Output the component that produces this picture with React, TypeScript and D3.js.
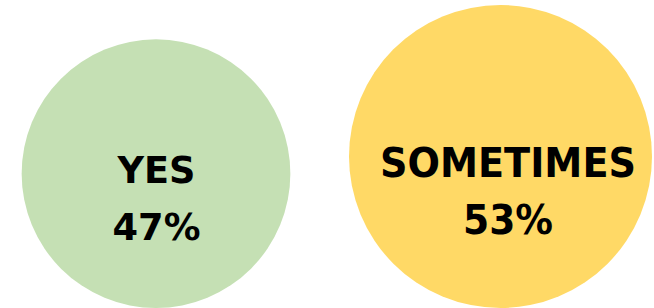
import * as d3 from "d3";

const categories = ["YES", "SOMETIMES"];
const values = [47, 53];
const colors = ["#C5E0B4", "#FFD966"];

const WIDTH = 654;
const HEIGHT = 308;
const BASE_Y = 308; // circles sit on a common bottom line
const CENTERS_X = [156, 500.5];
// label offsets relative to circle centre
const LABEL_DX = [0.5, 7.5];
const LINE1_DY = [9, 20.5];
const LINE2_DY = [66, 77.5];
// rendered widths of the heavy geometric labels
const LINE1_W = [78, 256];
const LINE2_W = [88, 90];

export default function App() {
  // radius proportional to the value
  const r = d3.scaleLinear().domain([0, 53]).range([0, 151.5]);
  const font = d3.scaleLinear().domain([47, 53]).range([37, 40.5]);

  return (
    <svg
      width={WIDTH}
      height={HEIGHT}
      viewBox={`0 0 ${WIDTH} ${HEIGHT}`}
      style={{ position: "absolute", left: 0, top: 0 }}
    >
      {categories.map((c, i) => {
        const rad = r(values[i]);
        const cx = CENTERS_X[i];
        const cy = BASE_Y - rad;
        const fs = font(values[i]);
        const tx = cx + LABEL_DX[i];
        return (
          <g key={c}>
            <circle cx={cx} cy={cy} r={rad} fill={colors[i]} />
            <text
              x={tx}
              y={cy + LINE1_DY[i]}
              textAnchor="middle"
              fontFamily="DejaVu Sans"
              fontWeight="bold"
              fontSize={fs}
              textLength={LINE1_W[i]}
              lengthAdjust="spacingAndGlyphs"
              fill="#000"
            >
              {c}
            </text>
            <text
              x={tx}
              y={cy + LINE2_DY[i]}
              textAnchor="middle"
              fontFamily="DejaVu Sans"
              fontWeight="bold"
              fontSize={fs}
              textLength={LINE2_W[i]}
              lengthAdjust="spacingAndGlyphs"
              fill="#000"
            >
              {`${values[i]}%`}
            </text>
          </g>
        );
      })}
    </svg>
  );
}
